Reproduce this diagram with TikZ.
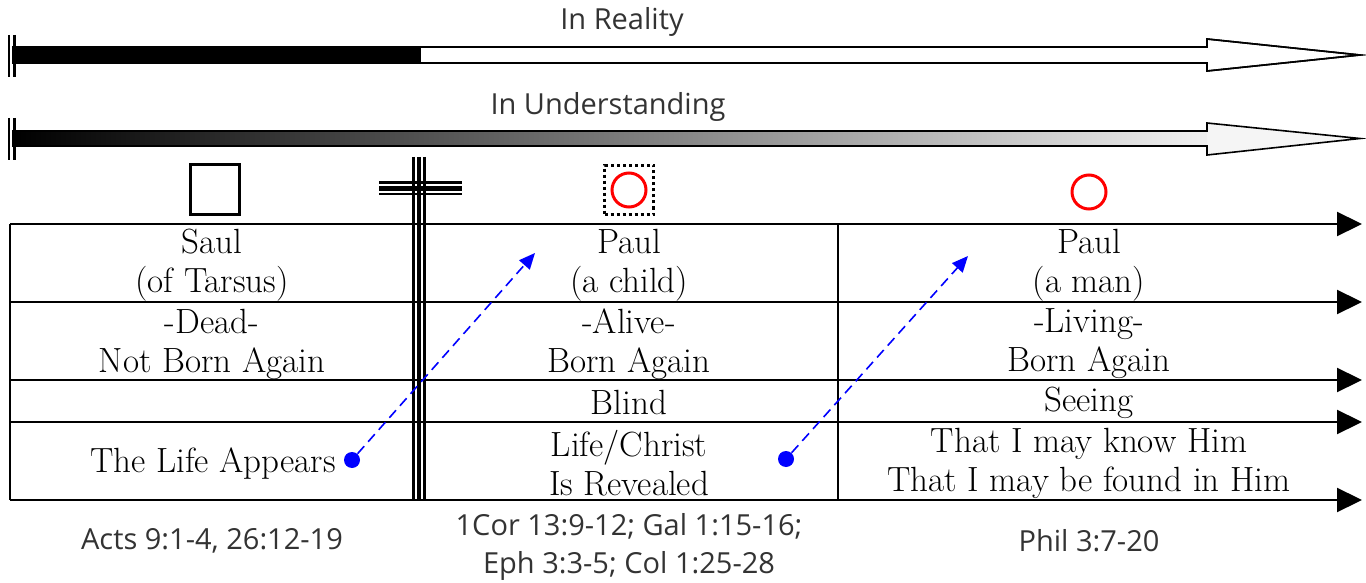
\documentclass[tikz,border=0pt]{standalone}
\usepackage{fontspec}
\newfontfamily\handfont{Open Sans}
\usetikzlibrary{positioning,arrows.meta,calc}

\begin{document}
\begin{tikzpicture}[
    x=0.5pt, y=-0.5pt,
    cell/.style={align=center, inner sep=0pt,
        font=\fontsize{17.5}{19.5}\selectfont},
    note/.style={align=center, inner sep=0pt, text=black!80,
        font=\handfont\fontsize{14.5}{19}\selectfont},
    rowline/.style={line width=1.1pt, -{Triangle[length=12.5pt,width=12pt]}},
    gridline/.style={line width=1.1pt},
    jump/.style={blue, line width=0.8pt, dash pattern=on 5pt off 3pt,
        -{Triangle[length=8pt,width=7pt]}},
    bluedot/.style={circle, fill=blue, inner sep=0pt, minimum size=8pt},
    bigarrow/.style={line width=0.8pt},
    endbar/.style={line width=1.1pt},
    mark box/.style={draw, line width=1.5pt, minimum size=24.5pt, inner sep=0pt},
    ring/.style={circle, draw=red, line width=1.5pt, minimum size=17pt, inner sep=0pt}
  ]
  \useasboundingbox (0,0) rectangle (1366,583);

  % time arrows
  \draw[bigarrow, fill=white] (13,47) -- (1207,47) -- (1207,39) -- (1360,55)
      -- (1207,71) -- (1207,63) -- (13,63) -- cycle;
  \fill (13,47) rectangle (421,63);
  \draw[bigarrow] (13,47) -- (1207,47) -- (1207,39) -- (1360,55)
      -- (1207,71) -- (1207,63) -- (13,63) -- cycle;
  \draw[endbar] (9,35) -- (9,77);
  \draw[endbar] (14.5,35) -- (14.5,77);
  \node[note] (reality) at (622,22) {In Reality};

  \fill[black!4] (1207,123) -- (1360,138.5) -- (1207,155) -- cycle;
  \shade[left color=black, middle color=black!55, right color=black!6]
      (13,131) rectangle (1207,146);
  \draw[bigarrow] (13,131) -- (1207,131) -- (1207,123) -- (1360,138.5)
      -- (1207,155) -- (1207,146) -- (13,146) -- cycle;
  \draw[endbar] (9,118) -- (9,160);
  \draw[endbar] (14.5,118) -- (14.5,160);
  \node[note] (understanding) at (608,107) {In Understanding};

  % marks above the columns
  \node[mark box] (sq) at (215,189.5) {};
  \node[mark box, dash pattern=on 1.5pt off 1.5pt] (dsq) at (629,190) {};
  \node[ring] (ring a) at (629,190) {};
  \node[ring] (ring b) at (1089,192) {};

  % the cross
  \foreach \x in {413.5,419,424.5}
    \draw[line width=1.7pt] (\x,157) -- (\x,500);
  \draw[line width=1.1pt] (379,182.5) -- (462,182.5);
  \draw[line width=2.5pt] (379,188.3) -- (462,188.3);
  \draw[line width=1.1pt] (379,193.8) -- (462,193.8);

  % table
  \foreach \y [count=\i] in {224,302,380,422,500} {
    \coordinate (r\i w) at (10,\y);
    \coordinate (r\i e) at (1362,\y);
    \draw[rowline] (r\i w) -- (r\i e);
  }
  \draw[gridline] (r1w) -- (r5w);
  \draw[gridline] (838,224) -- (838,500);

  \node[cell] (saul) at (212,265) {Saul\\(of Tarsus)};
  \node[cell] (dead) at (212,344) {-Dead-\\Not Born Again};
  \node[cell] (appears) at (213,464) {The Life Appears};

  \node[cell] (child) at (629,265) {Paul\\(a child)};
  \node[cell] (alive) at (629,344) {-Alive-\\Born Again};
  \node[cell] (blind) at (629,402) {Blind};
  \node[cell] (revealed) at (629,463) {Life/Christ\\Is Revealed};

  \node[cell] (man) at (1089,265) {Paul\\(a man)};
  \node[cell] (living) at (1089,344) {-Living-\\Born Again};
  \node[cell] (seeing) at (1089,403) {Seeing};
  \node[cell] (know) at (1089,463) {That I may know Him\\That I may be found in Him};

  % revelation jumps
  \node[bluedot] (dot a) at (352,460) {};
  \node[bluedot] (dot b) at (786,459) {};
  \coordinate (tip a) at (535,253);
  \coordinate (tip b) at (968,256);
  \draw[jump] (dot a) -- (tip a);
  \draw[jump] (dot b) -- (tip b);

  % references
  \node[note] (acts) at (212,541) {Acts 9:1-4, 26:12-19};
  \node[note] (cor) at (629,547) {1Cor 13:9-12; Gal 1:15-16;\\Eph 3:3-5; Col 1:25-28};
  \node[note] (phil) at (1089,541) {Phil 3:7-20};

\end{tikzpicture}
\end{document}
